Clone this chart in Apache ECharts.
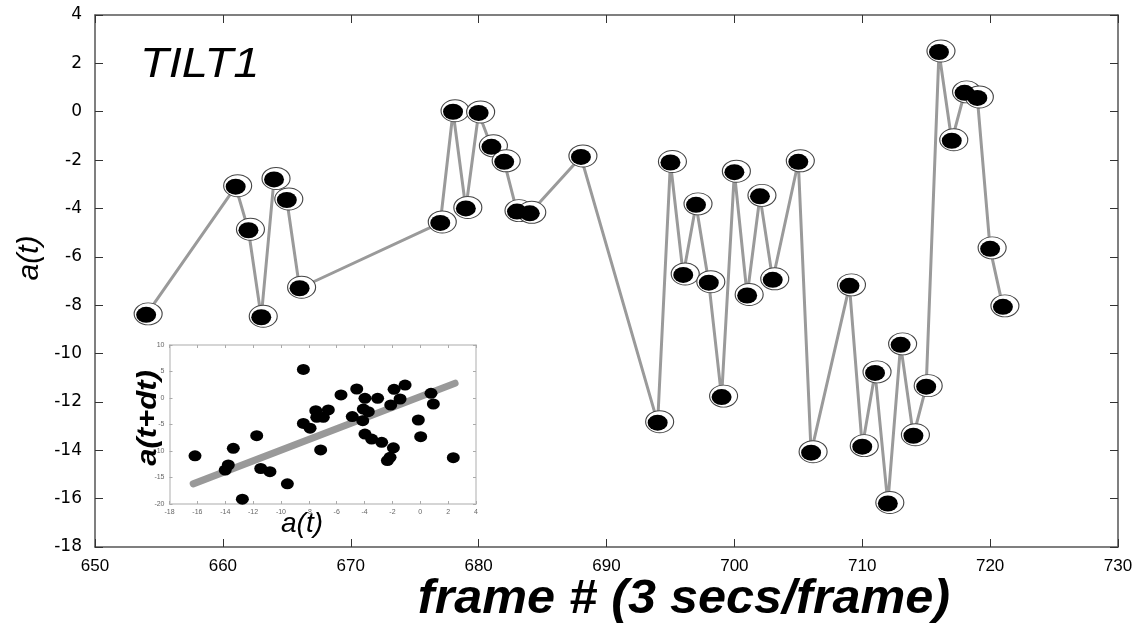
<!DOCTYPE html>
<html><head><meta charset="utf-8">
<script src="https://cdn.jsdelivr.net/npm/echarts@6/dist/echarts.min.js"></script>
<style>html,body{margin:0;padding:0;background:#fff}#c{width:1143px;height:630px}</style>
</head><body><div id="c"></div>
<script>
// main series: frame number vs a(t)
const frames = [654,661,662,663,664,665,666,677,678,679,680,681,682,683,684,688,694,695,696,697,698,699,700,701,702,703,705,706,709,710,711,712,713,714,715,716,717,718,719,720,721];
const tilt = [-8.4,-3.1,-4.9,-8.5,-2.8,-3.65,-7.3,-4.6,0.0,-4.0,-0.05,-1.45,-2.07,-4.13,-4.2,-1.87,-12.86,-2.1,-6.75,-3.85,-7.07,-11.8,-2.5,-7.6,-3.5,-6.95,-2.07,-14.1,-7.2,-13.85,-10.8,-16.2,-9.64,-13.4,-11.37,2.47,-1.2,0.78,0.57,-5.67,-8.07];
// inset scatter: a(t) vs a(t+dt)
const insetX = [-16.17,-13.42,-13.78,-14.0,-12.77,-11.74,-11.45,-10.79,-9.54,-8.39,-8.39,-7.91,-7.5,-7.43,-6.96,-6.6,-7.15,-5.69,-4.88,-4.56,-3.97,-4.09,-3.73,-4.13,-3.97,-3.49,-3.06,-2.77,-2.12,-1.88,-1.93,-2.17,-2.36,-1.45,-1.09,-0.14,0.03,0.77,0.94,2.37];
const insetY = [-10.9,-9.5,-12.64,-13.6,-19.1,-7.1,-13.3,-13.9,-16.2,5.4,-4.8,-5.7,-2.4,-3.65,-3.65,-2.26,-9.8,0.57,-3.5,1.7,-0.06,-2.08,-2.58,-4.28,-6.8,-7.74,-0.06,-8.36,-1.32,1.64,-9.4,-11.2,-11.8,-0.19,2.45,-4.15,-7.3,0.88,-1.13,-11.26];
// fitted line endpoints
const fitX = [-16.3, 2.5];
const fitY = [-16.2, 2.8];
// axis ranges / tick steps
const mainX = {min:650, max:730, step:10};
const mainY = {min:-18, max:4, step:2};
const inX = {min:-18, max:4, step:2};
const inY = {min:-20, max:10, step:5};

const mainPts = frames.map((f,i)=>[f,tilt[i]]);
const insetPts = insetX.map((x,i)=>[x,insetY[i]]);
const fitPts = fitX.map((x,i)=>[x,fitY[i]]);
const ell = 'path://M0,10A10,10 0 1,1 20,10A10,10 0 1,1 0,10Z';

const axLine = {show:true, onZero:false, lineStyle:{color:'#555', width:1.5}};
const axTick = {show:true, inside:true, length:8, lineStyle:{color:'#333', width:1}};
const inLine = {show:true, onZero:false, lineStyle:{color:'#c8c8c8', width:1.5}};
const inTick = {show:true, inside:true, length:3, lineStyle:{color:'#aaa', width:1}};
const inLab = {fontSize:7, color:'#666', margin:5, fontFamily:'Liberation Sans'};

const chart = echarts.init(document.getElementById('c'), null, {renderer:'canvas'});
chart.setOption({
  backgroundColor:'#fff',
  animation:false,
  grid:[
    {left:95, right:25, top:15, bottom:83},
    {left:169.5, right:667, top:345, bottom:126, show:true, backgroundColor:'#fff', borderWidth:0, z:5}
  ],
  xAxis:[
    {gridIndex:0, type:'value', min:mainX.min, max:mainX.max, interval:mainX.step, axisLine:axLine, axisTick:axTick, splitLine:{show:false},
     axisLabel:{fontSize:17, color:'#000', margin:11, fontFamily:'Liberation Sans'}},
    {gridIndex:0, type:'value', position:'top', min:mainX.min, max:mainX.max, interval:mainX.step, axisLine:axLine, axisTick:axTick, splitLine:{show:false}, axisLabel:{show:false}},
    {gridIndex:1, type:'value', min:inX.min, max:inX.max, interval:inX.step, axisLine:inLine, axisTick:inTick, splitLine:{show:false}, axisLabel:inLab, z:6},
    {gridIndex:1, type:'value', position:'top', min:inX.min, max:inX.max, interval:inX.step, axisLine:inLine, axisTick:inTick, splitLine:{show:false}, axisLabel:{show:false}, z:6}
  ],
  yAxis:[
    {gridIndex:0, type:'value', min:mainY.min, max:mainY.max, interval:mainY.step, axisLine:axLine, axisTick:axTick, splitLine:{show:false},
     axisLabel:{fontSize:17, color:'#000', margin:13, fontFamily:'DejaVu Sans'}},
    {gridIndex:0, type:'value', position:'right', min:mainY.min, max:mainY.max, interval:mainY.step, axisLine:axLine, axisTick:axTick, splitLine:{show:false}, axisLabel:{show:false}},
    {gridIndex:1, type:'value', min:inY.min, max:inY.max, interval:inY.step, axisLine:inLine, axisTick:inTick, splitLine:{show:false}, axisLabel:inLab, z:6},
    {gridIndex:1, type:'value', position:'right', min:inY.min, max:inY.max, interval:inY.step, axisLine:inLine, axisTick:inTick, splitLine:{show:false}, axisLabel:{show:false}, z:6}
  ],
  series:[
    {type:'line', xAxisIndex:0, yAxisIndex:0, data:mainPts, showSymbol:false, lineStyle:{color:'#9a9a9a', width:3}, z:2},
    {type:'scatter', xAxisIndex:0, yAxisIndex:0, data:mainPts, symbol:ell, symbolSize:[28,22], symbolOffset:[2,-1],
     itemStyle:{color:'#fff', borderColor:'#444', borderWidth:1, opacity:1}, z:3},
    {type:'scatter', xAxisIndex:0, yAxisIndex:0, data:mainPts, symbol:ell, symbolSize:[20,16],
     itemStyle:{color:'#000', opacity:1}, z:4},
    {type:'line', xAxisIndex:2, yAxisIndex:2, data:fitPts, showSymbol:false, lineStyle:{color:'#999', width:7, cap:'round'}, z:7},
    {type:'scatter', xAxisIndex:2, yAxisIndex:2, data:insetPts, symbol:ell, symbolSize:[13,11], itemStyle:{color:'#000', opacity:1}, z:8}
  ],
  graphic:[
    {type:'text', x:140, y:65, scaleX:1.12, z:10, style:{text:'TILT1', font:'italic 42px "Liberation Sans"', fill:'#000', verticalAlign:'middle'}},
    {type:'text', x:30, y:258, rotation:Math.PI/2, z:10, style:{text:'a(t)', font:'italic 30px "Liberation Sans"', fill:'#000', align:'center', verticalAlign:'middle'}},
    {type:'text', x:684, y:600, scaleX:1.05, z:10, style:{text:'frame # (3 secs/frame)', font:'italic bold 48px "Liberation Sans"', fill:'#000', align:'center', verticalAlign:'middle'}},
    {type:'text', x:302, y:524, z:10, style:{text:'a(t)', font:'italic 28px "Liberation Sans"', fill:'#000', align:'center', verticalAlign:'middle'}},
    {type:'text', x:149, y:418, rotation:Math.PI/2, scaleX:1.15, z:10, style:{text:'a(t+dt)', font:'italic bold 27px "Liberation Sans"', fill:'#000', align:'center', verticalAlign:'middle'}}
  ]
});
</script></body></html>
